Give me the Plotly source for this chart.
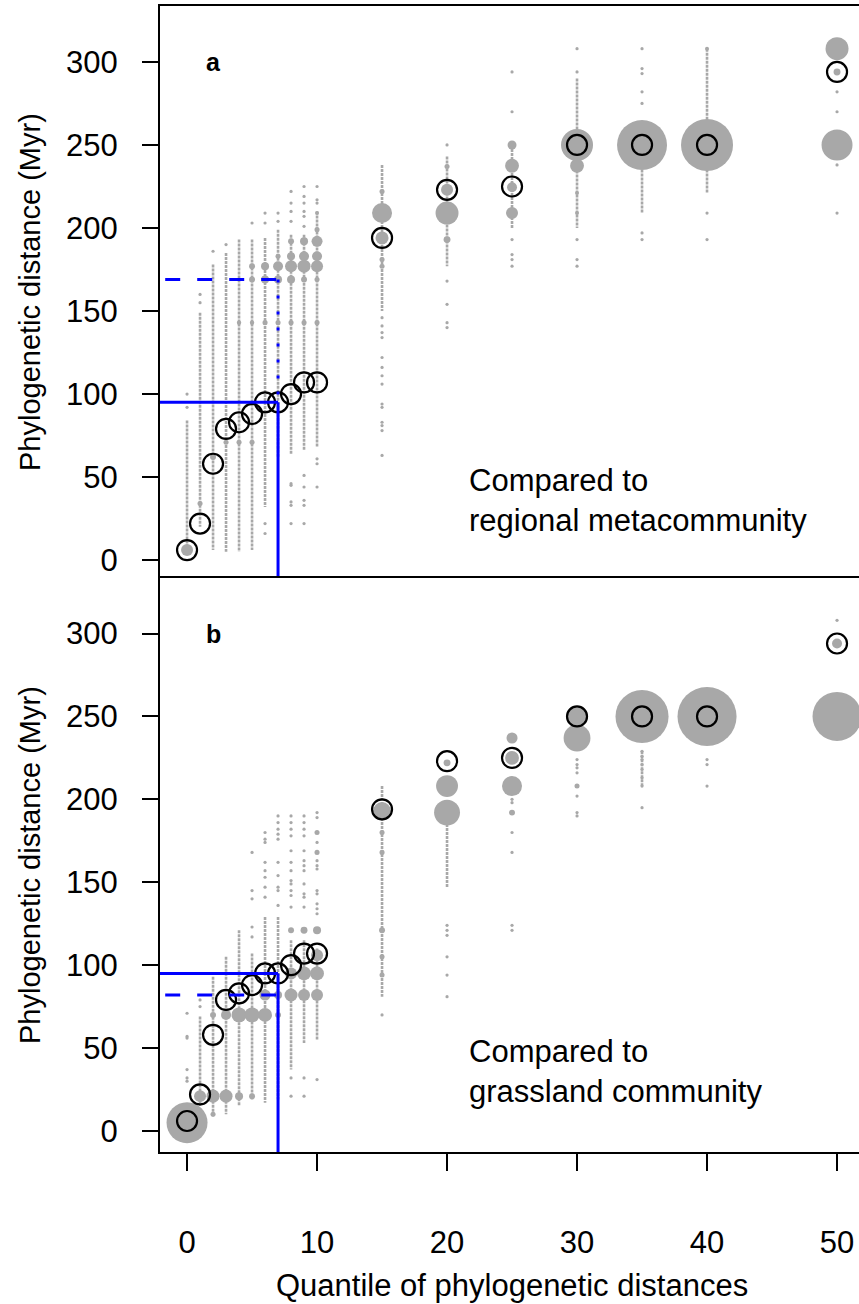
import math
import plotly.graph_objects as go

# ---------------- data ----------------
# observed quantiles of phylogenetic distances (open circles, same in both panels)
QUANT = [0, 1, 2, 3, 4, 5, 6, 7, 8, 9, 10, 15, 20, 25, 30, 35, 40, 50]
OBS_DIST = [6, 22, 58, 79, 83, 88, 95, 95, 100, 107, 107, 194, 223, 225, 250, 250, 250, 294]

THRESH_Q = 7        # quantile marked with blue lines
THRESH_OBS = 95     # observed distance at that quantile
NULL_A = 169        # null expectation, regional metacommunity
NULL_B = 82         # null expectation, grassland community

# ---- panel a: dense runs of null values (quantile, low, high)
A_COL_X = [0, 1, 2, 3, 4, 5, 6, 7, 8, 9, 10, 15, 20, 25, 30, 35, 40, 40]
A_COL_LO = [6, 20, 6, 5, 5, 6, 32, 62, 64, 66, 68, 150, 177, 200, 200, 209, 256, 221]
A_COL_HI = [84, 149, 178, 185, 193, 193, 194, 199, 196, 196, 210, 238, 243, 250, 290, 240, 308, 240]

# panel a: isolated null values per quantile
A_SPARSE = {
    0: [100, 92], 1: [160, 155], 2: [186], 3: [190], 5: [203],
    6: [209, 203, 22, 16], 7: [209, 204],
    8: [222, 215, 210, 204, 46, 45, 35, 33, 22],
    9: [225, 219, 215, 210, 207, 201, 51, 44, 36, 33, 22],
    10: [225, 217, 215, 61, 58, 44],
    15: [146, 141, 137, 134, 122, 116, 111, 106, 94, 92, 83, 81, 78, 63],
    20: [250, 168, 154, 143, 140],
    25: [294, 270, 193, 184, 181, 177],
    30: [308, 294, 193, 181, 177],
    35: [308, 296, 293, 282, 275, 197, 193],
    40: [209, 193],
    50: [282, 270, 238, 209],
}

# panel a: repeated null values (quantile, distance, frequency)
A_BUB_X = [0, 1, 2, 3, 4, 5,
           4, 5, 6, 7, 8, 9, 10,
           5, 5, 6, 6, 7, 7, 7, 8, 8, 8, 8, 9, 9, 9, 9,
           10, 10, 10, 10, 10, 10,
           15, 15, 15, 15, 15, 20, 20, 20, 20, 25, 25, 25, 25,
           30, 30, 30, 30, 35, 40, 40, 50, 50, 50]
A_BUB_Y = [6, 34, 62, 71, 71, 71,
           143, 143, 143, 143, 143, 143, 143,
           177, 169, 177, 169, 183, 177, 169, 192, 183, 177, 169, 192, 183, 177, 169,
           209, 199, 192, 183, 177, 169,
           222, 209, 194, 181, 177, 237, 223, 209, 193, 250, 237.5, 224.5, 209,
           250, 237.5, 221, 209, 250, 250, 308, 308, 294, 250]
A_BUB_N = [9, 1.6, 2.2, 1.6, 1.6, 1.6,
           1.2, 1.2, 1.6, 1.6, 1.6, 1.6, 1.6,
           2.2, 2.2, 4, 4, 1.6, 6.2, 4, 2.2, 4, 9, 4, 4, 6.2, 10.6, 2.2,
           1, 1.6, 7.6, 6.2, 9, 1.6,
           1.6, 25, 10.6, 1.6, 1.6, 1.6, 9, 33, 3, 5, 12, 6.2, 9,
           64, 12, 1, 1, 156, 169, 1, 33, 3, 60]

# ---- panel b
B_COL_X = [1, 2, 3, 4, 5, 6, 7, 8, 9, 10, 15, 20, 35]
B_COL_LO = [15, 9, 10, 15, 19, 17, 19, 37, 53, 55, 81, 147, 208]
B_COL_HI = [69, 93, 105, 121, 107, 129, 129, 115, 115, 110, 208, 190, 229]

B_SPARSE = {
    0: [71, 57, 56, 37, 32, 30], 1: [79, 75],
    5: [168, 145, 140, 123, 117],
    6: [180, 176, 174, 162, 157, 153, 147, 141],
    7: [190, 186, 182, 179, 176, 162, 154, 147, 145, 136],
    8: [190, 186, 182, 178, 169, 162, 157, 151, 149, 145, 142, 135, 32, 21],
    9: [190, 186, 182, 178, 169, 163, 160, 157, 149, 143, 141, 135, 32, 21],
    10: [192, 189, 174, 163, 160, 158, 145, 143, 137, 134, 131, 31],
    15: [70],
    20: [124, 121, 118, 105, 94, 81],
    25: [200, 198, 180, 168, 124, 121],
    30: [224, 221, 219, 216, 202, 192, 190],
    35: [229, 226, 224, 221, 218, 213, 208, 195],
    40: [224, 221, 208],
    50: [308],
}

B_BUB_X = [0, 1, 2, 3, 4, 5, 2,
           2, 3, 4, 5, 6, 7,
           6, 7, 8, 9, 10, 8, 9, 10, 10, 8, 9, 10, 10, 10,
           15, 15, 15, 15, 15, 15, 20, 20, 20, 25, 25, 25, 25,
           30, 30, 30, 35, 40, 50, 50]
B_BUB_Y = [5, 21, 21, 21, 21, 21, 10,
           70, 70, 70, 70, 70, 70,
           82, 82, 82, 82, 82, 95, 95, 95, 106, 121, 121, 121, 168, 180,
           193, 180, 168, 121, 105, 94, 222, 208, 192, 237, 225, 208, 192,
           250, 237, 208, 250, 250, 250, 294]
B_BUB_N = [105, 9, 10.6, 10.6, 4, 2.2, 1.6,
           2.2, 6.2, 14, 14, 12, 2.2,
           7.6, 4, 10.6, 9, 9, 9, 12, 12, 9, 2.2, 3, 4, 1.6, 1.6,
           20, 1.6, 1.6, 2.2, 1.6, 1.6, 3, 30, 42, 7.6, 12, 25, 2.2,
           25, 45, 1.6, 176, 218, 150, 6.2]

X_TICKS = [0, 10, 20, 30, 40, 50]
Y_TICKS = [0, 50, 100, 150, 200, 250, 300]
X_RANGE = [-2.08, 51.69]
YA_RANGE = [-10.8, 333.7]
YB_RANGE = [-12.7, 333.5]

# ---------------- styling ----------------
GREY = "#A8A8A8"
BLUE = "#0000FF"
FONT = "Liberation Sans, Arial, Helvetica, sans-serif"
FS = 31

fig = go.Figure()


def add_panel(xa, ya, col_x, col_lo, col_hi, sparse, bx, by, bn, null_val, yrange):
    # dense runs of null values
    lx, ly = [], []
    for x, lo, hi in zip(col_x, col_lo, col_hi):
        lx += [x, x, None]
        ly += [hi, lo, None]
    fig.add_trace(go.Scatter(x=lx, y=ly, mode="lines", xaxis=xa, yaxis=ya,
                             line=dict(color=GREY, width=2.6, dash="3px,1px"),
                             hoverinfo="skip", showlegend=False))
    # isolated values
    sx, sy = [], []
    for q, ys in sparse.items():
        sx += [q] * len(ys)
        sy += ys
    fig.add_trace(go.Scatter(x=sx, y=sy, mode="markers", xaxis=xa, yaxis=ya,
                             marker=dict(color=GREY, size=3.2, line=dict(width=0)),
                             showlegend=False))
    # bubbles (size ~ sqrt(frequency))
    fig.add_trace(go.Scatter(x=bx, y=by, mode="markers", xaxis=xa, yaxis=ya,
                             marker=dict(color=GREY, size=[4 * math.sqrt(n) for n in bn],
                                         line=dict(width=0), opacity=1),
                             showlegend=False))
    # observed quantiles
    fig.add_trace(go.Scatter(x=QUANT, y=OBS_DIST, mode="markers", xaxis=xa, yaxis=ya,
                             marker=dict(symbol="circle-open", color="black", size=20,
                                         line=dict(width=2.2, color="black")),
                             showlegend=False))
    # blue reference lines
    fig.add_trace(go.Scatter(x=[X_RANGE[0], THRESH_Q], y=[THRESH_OBS, THRESH_OBS], mode="lines",
                             xaxis=xa, yaxis=ya, line=dict(color=BLUE, width=3),
                             showlegend=False))
    fig.add_trace(go.Scatter(x=[THRESH_Q, THRESH_Q], y=[THRESH_OBS, yrange[0]], mode="lines",
                             xaxis=xa, yaxis=ya, line=dict(color=BLUE, width=3),
                             showlegend=False))
    fig.add_trace(go.Scatter(x=[X_RANGE[0] + 0.4, THRESH_Q], y=[null_val, null_val], mode="lines",
                             xaxis=xa, yaxis=ya, line=dict(color=BLUE, width=3, dash="15px,17px"),
                             showlegend=False))
    if null_val > THRESH_OBS:
        fig.add_trace(go.Scatter(x=[THRESH_Q, THRESH_Q], y=[null_val, THRESH_OBS], mode="lines",
                                 xaxis=xa, yaxis=ya,
                                 line=dict(color=BLUE, width=3, dash="3px,13px"),
                                 showlegend=False))


add_panel("x", "y", A_COL_X, A_COL_LO, A_COL_HI, A_SPARSE, A_BUB_X, A_BUB_Y, A_BUB_N, NULL_A, YA_RANGE)
add_panel("x2", "y2", B_COL_X, B_COL_LO, B_COL_HI, B_SPARSE, B_BUB_X, B_BUB_Y, B_BUB_N, NULL_B, YB_RANGE)

split = 574 / 1146
axis_common = dict(showgrid=False, zeroline=False, showline=True, linecolor="black", linewidth=2,
                   tickfont=dict(family=FONT, size=FS, color="black"))

fig.update_layout(
    width=859, height=1304,
    margin=dict(l=160, r=0, t=6, b=152),
    plot_bgcolor="white", paper_bgcolor="white",
    font=dict(family=FONT, size=FS, color="black"),
    # panel a x axis: only the top frame line (the shared middle line comes from panel b)
    xaxis=dict(domain=[0, 1], anchor="y", side="top", range=X_RANGE, showticklabels=False,
               ticks="", **axis_common),
    yaxis=dict(domain=[split, 1], anchor="x", range=YA_RANGE, tickvals=Y_TICKS, ticks="outside",
               ticklen=16, tickwidth=2, tickcolor="black", ticklabelstandoff=18, **axis_common),
    xaxis2=dict(domain=[0, 1], anchor="y2", range=X_RANGE, mirror=True, tickvals=X_TICKS,
                ticks="outside", ticklen=17, tickwidth=2, tickcolor="black", ticklabelstandoff=45,
                **axis_common),
    yaxis2=dict(domain=[0, split], anchor="x2", range=YB_RANGE, tickvals=Y_TICKS, ticks="outside",
                ticklen=16, tickwidth=2, tickcolor="black", ticklabelstandoff=18, **axis_common),
)

ann = []
for yref, lbl, l1, l2 in [("y", "a", "Compared to", "regional metacommunity"),
                          ("y2", "b", "Compared to", "grassland community")]:
    xref = "x" if yref == "y" else "x2"
    ann.append(dict(x=2, y=300, xref=xref, yref=yref, text="<b>%s</b>" % lbl, showarrow=False,
                    font=dict(family=FONT, size=25, color="black")))
    ann.append(dict(x=21.5, y=36, xref=xref, yref=yref, text=l1 + "<br>" + l2, showarrow=False,
                    xanchor="left", yanchor="middle", align="left",
                    font=dict(family=FONT, size=FS, color="black")))

for yc in [(1152 - 292) / 1146, (1152 - 865) / 1146]:
    ann.append(dict(x=(30 - 160) / 699, y=yc, xref="paper", yref="paper",
                    text="Phylogenetic distance (Myr)", textangle=-90, showarrow=False,
                    xanchor="center", yanchor="middle",
                    font=dict(family=FONT, size=FS - 2, color="black")))
ann.append(dict(x=(512 - 160) / 699, y=(1152 - 1285) / 1146, xref="paper", yref="paper",
                text="Quantile of phylogenetic distances", showarrow=False,
                xanchor="center", yanchor="middle", font=dict(family=FONT, size=FS, color="black")))
fig.update_layout(annotations=ann)

fig.write_html("out.html")
